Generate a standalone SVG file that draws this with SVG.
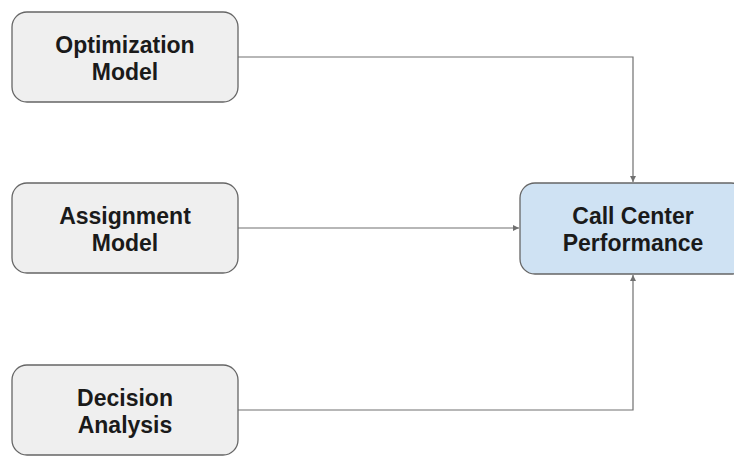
<svg xmlns="http://www.w3.org/2000/svg" width="734" height="456" viewBox="0 0 734 456">
<style>
.box{fill:#efefef;stroke:#666666;stroke-width:1.3}
.target{fill:#cfe2f3;stroke:#666666;stroke-width:1.3}
.lbl{font-family:"Liberation Sans",Arial,sans-serif;font-size:23px;font-weight:bold;fill:#1a1a1a;text-anchor:middle}
.conn{fill:none;stroke:#707070;stroke-width:1.2}
</style>
<defs>
<marker id="arr" viewBox="0 0 10 10" refX="10" refY="5" markerWidth="6" markerHeight="6" markerUnits="userSpaceOnUse" orient="auto">
<path d="M0,0 L10,5 L0,10 z" fill="#707070"/>
</marker>
</defs>
<g id="connectors">
<path class="conn" d="M238,57 H633 V182" marker-end="url(#arr)"/>
<path class="conn" d="M238,228 H519" marker-end="url(#arr)"/>
<path class="conn" d="M238,410 H633 V275" marker-end="url(#arr)"/>
</g>
<g id="optimization">
<rect class="box" x="12" y="12" width="226" height="90" rx="15"/>
<text class="lbl" x="125" y="53">Optimization</text>
<text class="lbl" x="125" y="80">Model</text>
</g>
<g id="assignment">
<rect class="box" x="12" y="183" width="226" height="90" rx="15"/>
<text class="lbl" x="125" y="224">Assignment</text>
<text class="lbl" x="125" y="251">Model</text>
</g>
<g id="decision">
<rect class="box" x="12" y="365" width="226" height="90" rx="15"/>
<text class="lbl" x="125" y="406">Decision</text>
<text class="lbl" x="125" y="433">Analysis</text>
</g>
<g id="performance">
<rect class="target" x="520" y="183" width="226" height="91" rx="15"/>
<text class="lbl" x="633" y="224">Call Center</text>
<text class="lbl" x="633" y="251">Performance</text>
</g>
</svg>
